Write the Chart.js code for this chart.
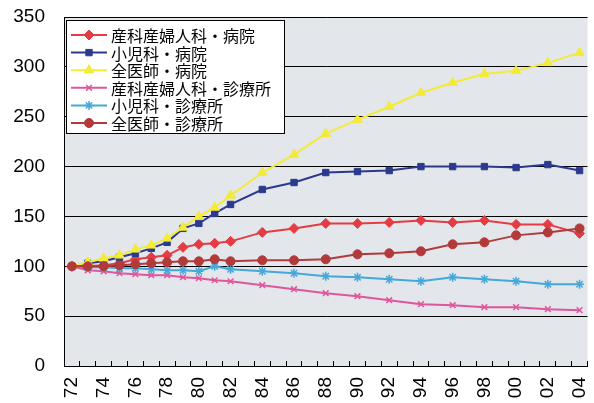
<!DOCTYPE html>
<html>
<head>
<meta charset="utf-8">
<script src="https://cdn.jsdelivr.net/npm/chart.js@4/dist/chart.umd.min.js"></script>
<style>
  html, body { margin: 0; padding: 0; background: #ffffff; }
  #wrap { width: 594px; height: 403px; position: relative; }
</style>
</head>
<body>
<div id="wrap"><canvas id="chart"></canvas></div>
<script>
// Years 1972–2004 (two-digit labels); annual data up to 82, every two years after that
const years = ['72','73','74','75','76','77','78','79','80','81','82','83','84','85','86','87','88',
               '89','90','91','92','93','94','95','96','97','98','99','00','01','02','03','04'];
const shownYears = ['72','74','76','78','80','82','84','86','88','90','92','94','96','98','00','02','04'];
const yTicks = [0, 50, 100, 150, 200, 250, 300, 350];

const seriesNames = ['産科産婦人科・病院', '小児科・病院', '全医師・病院',
                     '産科産婦人科・診療所', '小児科・診療所', '全医師・診療所'];

//                         72   73   74   75   76   77   78   79   80   81   82   83   84   85   86   87   88   89   90   91   92   93   94   95   96   97   98   99   00   01   02   03   04
const obHospital     = [100, 100, 101, 103, 107, 109, 111, 119, 122, 123, 125, null,134, null,138, null,143, null,143, null,144, null,146, null,144, null,146, null,142, null,142, null,133];
const pedHospital    = [100, 103, 105, 109, 113, 118, 124, 138, 143, 153, 162, null,177, null,184, null,194, null,195, null,196, null,200, null,200, null,200, null,199, null,202, null,196];
const allHospital    = [100, 104, 108, 111, 117, 121, 128, 139, 150, 159, 171, null,194, null,212, null,233, null,247, null,260, null,274, null,284, null,293, null,296, null,304, null,314];
const obClinic       = [100,  96,  95,  93,  92,  91,  91,  89,  88,  86,  85, null, 81, null, 77, null, 73, null, 70, null, 66, null, 62, null, 61, null, 59, null, 59, null, 57, null, 56];
const pedClinic      = [100,  99,  99,  98,  98,  97,  96,  96,  95, 100,  97, null, 95, null, 93, null, 90, null, 89, null, 87, null, 85, null, 89, null, 87, null, 85, null, 82, null, 82];
const allClinic      = [100, 100, 100, 101, 102, 103, 104, 105, 105, 107, 105, null,106, null,106, null,107, null,112, null,113, null,115, null,122, null,124, null,131, null,134, null,138];

const seriesValues = [obHospital, pedHospital, allHospital, obClinic, pedClinic, allClinic];
const seriesColors = ['#e63b42', '#2c3a8e', '#f3eb3a', '#e0559c', '#45a8d8', '#b23a3a'];
const seriesMarkers = ['rectRot', 'rect', 'triangle', 'crossRot', 'star', 'circle'];
const markerRadius  = [5, 4.5, 5.5, 4, 4.5, 4.5];

const datasets = seriesNames.map((name, i) => ({
  label: name,
  data: seriesValues[i],
  borderColor: seriesColors[i],
  backgroundColor: seriesColors[i],
  pointBackgroundColor: seriesColors[i],
  pointBorderColor: seriesColors[i],
  pointStyle: seriesMarkers[i],
  pointRadius: markerRadius[i],
  pointBorderWidth: (seriesMarkers[i] === 'crossRot' || seriesMarkers[i] === 'star') ? 1.5 : 1,
  borderWidth: 2,
  tension: 0,
  spanGaps: true,
  order: seriesNames.length - i   // later series are painted on top
}));

// Light plot-area fill behind the grid
const plotFill = {
  id: 'plotFill',
  beforeDraw(chart) {
    const { ctx, chartArea: a } = chart;
    ctx.save();
    ctx.fillStyle = '#e3e6eb';
    ctx.fillRect(a.left, a.top, a.right - a.left, a.bottom - a.top);
    ctx.restore();
  }
};

// Boxed legend in the upper-left corner of the plot
const boxLegend = {
  id: 'boxLegend',
  afterDraw(chart) {
    const { ctx } = chart;
    const a = chart.chartArea;
    const x0 = a.left + 2, y0 = a.top + 3, w = 218, h = 113;
    ctx.save();
    ctx.fillStyle = '#ffffff';
    ctx.fillRect(x0, y0, w, h);
    ctx.strokeStyle = '#000000';
    ctx.lineWidth = 1;
    ctx.strokeRect(x0 + 0.5, y0 + 0.5, w, h);
    ctx.font = '16px "Noto Sans CJK JP", "Noto Sans", sans-serif';
    ctx.textBaseline = 'middle';
    chart.data.datasets.forEach((ds, i) => {
      const y = y0 + 15 + i * 17.6;
      ctx.strokeStyle = ds.borderColor;
      ctx.lineWidth = 2;
      ctx.beginPath();
      ctx.moveTo(x0 + 5, y);
      ctx.lineTo(x0 + 41, y);
      ctx.stroke();
      ctx.fillStyle = ds.pointBackgroundColor;
      ctx.strokeStyle = ds.pointBorderColor;
      ctx.lineWidth = ds.pointBorderWidth;
      Chart.helpers.drawPoint(ctx, {
        pointStyle: ds.pointStyle, radius: ds.pointRadius, rotation: 0, borderWidth: ds.pointBorderWidth
      }, x0 + 23, y);
      ctx.fillStyle = '#000000';
      ctx.fillText(ds.label, x0 + 45, y + 1);
    });
    ctx.restore();
  }
};

new Chart(document.getElementById('chart'), {
  type: 'line',
  data: { labels: years, datasets },
  plugins: [plotFill, boxLegend],
  options: {
    responsive: true,
    maintainAspectRatio: false,
    animation: false,
    layout: { padding: { top: 17, right: 0, bottom: 0, left: 0 } },
    plugins: { legend: { display: false }, tooltip: { enabled: false } },
    scales: {
      x: {
        type: 'category',
        offset: true,
        // tick marks sit between categories and point up into the plot
        grid: { display: true, offset: true, drawOnChartArea: false, drawTicks: true, tickLength: -5, color: '#000000' },
        border: { display: true, color: '#000000', width: 1 },
        ticks: {
          autoSkip: false,
          minRotation: 90,
          maxRotation: 90,
          padding: 16,
          color: '#000000',
          font: { family: '"Liberation Sans", Arial, sans-serif', size: 19 },
          callback(value, index) {
            const lbl = years[index];
            return shownYears.includes(lbl) ? lbl : '';
          }
        },
        afterFit(scale) { scale.height = 37; scale.paddingLeft = 0; scale.paddingRight = 0; }
      },
      y: {
        min: yTicks[0],
        max: yTicks[yTicks.length - 1],
        afterBuildTicks(scale) { scale.ticks = yTicks.map(v => ({ value: v })); },
        grid: { color: '#000000', lineWidth: 1, drawTicks: false },
        border: { display: true, color: '#000000', width: 1 },
        ticks: {
          padding: 19,
          color: '#000000',
          font: { family: '"Liberation Sans", Arial, sans-serif', size: 19 }
        },
        afterFit(scale) { scale.width = 64; scale.paddingTop = 0; scale.paddingBottom = 0; }
      }
    }
  }
});
</script>
</body>
</html>
